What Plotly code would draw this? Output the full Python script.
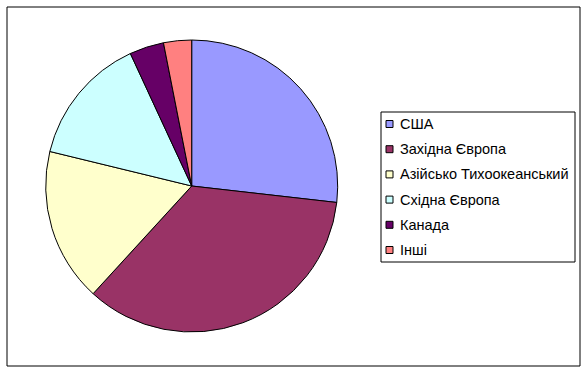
import plotly.graph_objects as go

labels = ["США", "Західна Європа", "Азійсько Тихоокеанський", "Східна Європа", "Канада", "Інші"]
values = [26.8, 35.0, 17.0, 14.3, 3.8, 3.1]
colors = ["#9999FF", "#993366", "#FFFFCC", "#CCFFFF", "#660066", "#FF8080"]

W, H = 588, 373
cx, cy, r = 191.7, 186, 146

fig = go.Figure(go.Pie(
    labels=labels, values=values, sort=False, direction="clockwise", rotation=0,
    marker=dict(colors=colors, line=dict(color="black", width=1)),
    textinfo="none", hoverinfo="label+percent", showlegend=False,
    domain=dict(x=[(cx - r) / W, (cx + r) / W], y=[(H - cy - r) / H, (H - cy + r) / H]),
))

shapes = [
    dict(type="rect", xref="paper", yref="paper", x0=7 / W, x1=580 / W, y0=1 - 366 / H, y1=1 - 7 / H,
         line=dict(color="black", width=1), fillcolor="rgba(0,0,0,0)"),
    dict(type="rect", xref="paper", yref="paper", x0=381 / W, x1=575 / W, y0=1 - 262 / H, y1=1 - 112 / H,
         line=dict(color="black", width=1), fillcolor="white"),
]
annotations = []
for i, (lab, col) in enumerate(zip(labels, colors)):
    yc = 124 + i * 25.2
    shapes.append(dict(type="rect", xref="paper", yref="paper",
                       x0=386 / W, x1=393 / W, y0=1 - (yc + 3.5) / H, y1=1 - (yc - 3.5) / H,
                       line=dict(color="black", width=1), fillcolor=col))
    annotations.append(dict(x=398 / W, y=1 - yc / H, xref="paper", yref="paper", text=lab,
                            showarrow=False, xanchor="left", yanchor="middle",
                            font=dict(family="Liberation Sans, Arial", size=14.5, color="black")))

fig.update_layout(
    width=W, height=H, margin=dict(l=0, r=0, t=0, b=0),
    paper_bgcolor="white", plot_bgcolor="white",
    shapes=shapes, annotations=annotations,
)
fig.write_html("out.html")
